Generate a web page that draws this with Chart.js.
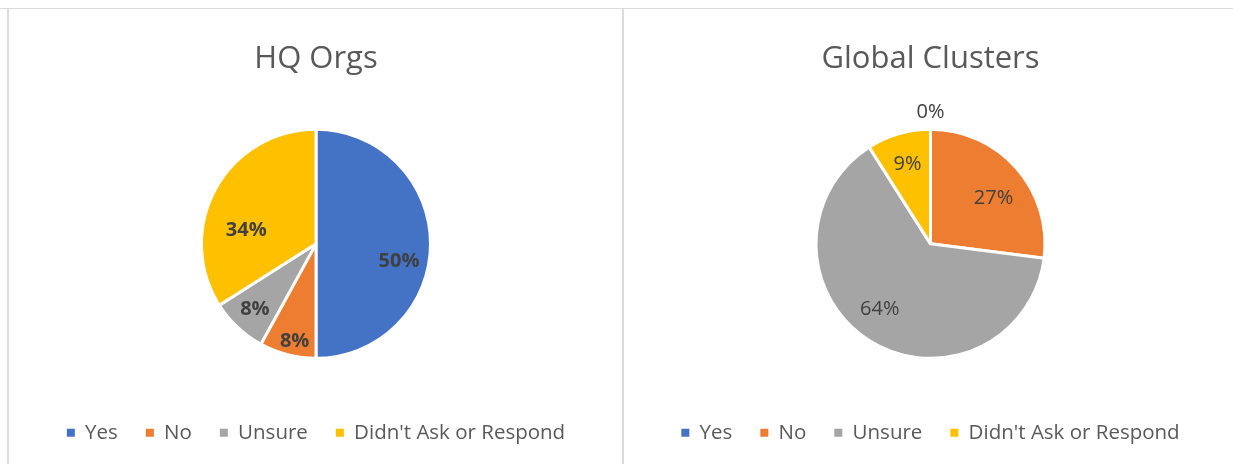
<!DOCTYPE html>
<html>
<head>
<meta charset="utf-8">
<script src="https://cdn.jsdelivr.net/npm/chart.js@4.4.0/dist/chart.umd.min.js"></script>
<style>
  html, body { margin: 0; padding: 0; background: #fff; }
  body { width: 1233px; height: 464px; position: relative; overflow: hidden; }
  .line { position: absolute; background: #dcdcdc; }
  canvas { position: absolute; top: 9px; }
  #hq { left: 8px; }
  #gc { left: 624px; }
</style>
</head>
<body>
<div class="line" style="left:0;top:8px;width:1233px;height:1px"></div>
<div class="line" style="left:7px;top:8px;width:2px;height:456px"></div>
<div class="line" style="left:622px;top:8px;width:2px;height:456px"></div>
<canvas id="hq" width="616" height="455"></canvas>
<canvas id="gc" width="613" height="455"></canvas>
<script>
const categories = ["Yes", "No", "Unsure", "Didn't Ask or Respond"]
const hqValues = [50, 8, 8, 34]
const clusterValues = [0, 27, 64, 9]
const sliceColors = ["#4472C4", "#ED7D31", "#A5A5A5", "#FFC000"]

// label placement per slice: fraction of radius and angle nudge (degrees)
const hqLabelPos = [[0.74, 11.6], [0.87, -2], [0.78, 0], [0.62, -18]]
const clusterLabelPos = [[1.15, 0], [0.68, 5.4], [0.72, 5.6], [0.72, 0]]

const pctLabels = {
  id: "pctLabels",
  afterDatasetsDraw(chart, args, opts) {
    const c = chart.ctx
    const meta = chart.getDatasetMeta(0)
    const values = chart.data.datasets[0].data
    c.save()
    c.fillStyle = "#404040"
    c.font = `${opts.weight} 20px "Open Sans"`
    c.textAlign = "center"
    c.textBaseline = "middle"
    meta.data.forEach((arc, i) => {
      const p = arc.getProps(["x", "y", "startAngle", "endAngle", "outerRadius"], true)
      const [frac, nudge] = opts.pos[i]
      const mid = (p.startAngle + p.endAngle) / 2 + nudge * Math.PI / 180
      const r = p.outerRadius * frac
      c.fillText(values[i] + "%", p.x + Math.cos(mid) * r, p.y + Math.sin(mid) * r)
    })
    c.restore()
  }
}

function makePie(id, title, values, labelPos, weight) {
  return new Chart(document.getElementById(id), {
    type: "pie",
    data: {
      labels: categories,
      datasets: [{
        data: values,
        backgroundColor: sliceColors,
        borderColor: "#ffffff",
        borderWidth: 3,
        radius: 114.5
      }]
    },
    options: {
      responsive: false,
      animation: false,
      layout: { padding: { bottom: 11 } },
      plugins: {
        title: {
          display: true,
          text: title,
          color: "#595959",
          font: { family: "Open Sans", size: 31, weight: "normal", lineHeight: 1.2 },
          padding: { top: 32, bottom: 15 }
        },
        legend: {
          position: "bottom",
          labels: {
            color: "#595959",
            font: { family: "Open Sans", size: 20.5 },
            boxWidth: 8,
            boxHeight: 8,
            padding: 28,
            generateLabels(chart) {
              const items = Chart.overrides.pie.plugins.legend.labels.generateLabels(chart)
              items.forEach((it) => { it.lineWidth = 0; it.strokeStyle = it.fillStyle })
              return items
            }
          }
        },
        tooltip: { enabled: false },
        pctLabels: { pos: labelPos, weight: weight }
      }
    },
    plugins: [pctLabels]
  })
}

document.fonts.load('20px "Open Sans"').then(() => document.fonts.load('bold 20px "Open Sans"')).finally(() => {
  makePie("hq", "HQ Orgs", hqValues, hqLabelPos, "bold")
  makePie("gc", "Global Clusters", clusterValues, clusterLabelPos, "normal")
})
</script>
</body>
</html>
